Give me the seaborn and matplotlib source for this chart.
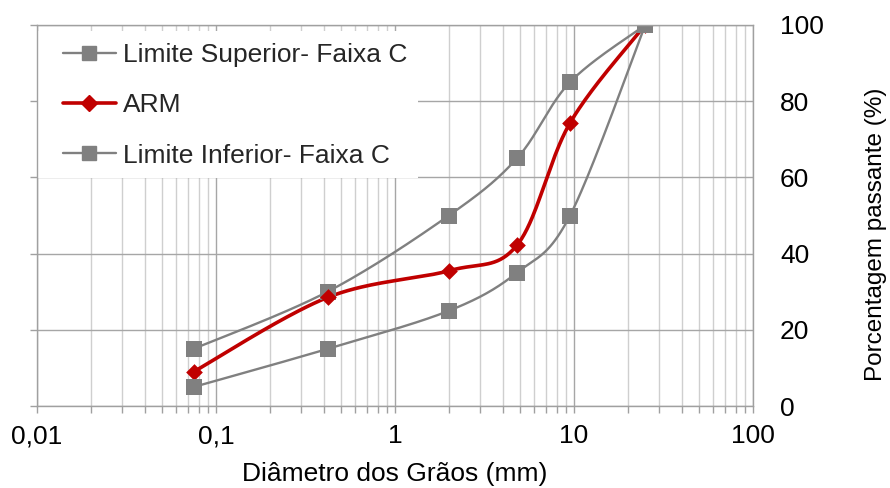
import numpy as np
import matplotlib
matplotlib.use("Agg")
import matplotlib.pyplot as plt
import matplotlib.ticker as mticker
from matplotlib.lines import Line2D
from matplotlib.patches import Rectangle
import seaborn as sns
import pandas as pd

# ---- data ----
diametro = [0.075, 0.42, 2.0, 4.8, 9.5, 25.0]
lim_sup = [15, 30, 50, 65, 85, 100]
arm = [9, 28.5, 35.5, 42.2, 74.3, 100]
lim_inf = [5, 15, 25, 35, 50, 100]
series_names = ["Limite Superior- Faixa C", "ARM", "Limite Inferior- Faixa C"]
x_ticks = [0.01, 0.1, 1, 10, 100]
x_ticklabels = ["0,01", "0,1", "1", "10", "100"]
y_ticks = [0, 20, 40, 60, 80, 100]

sns.set_theme(style="white")
plt.rcParams["font.family"] = ["Liberation Sans", "DejaVu Sans"]

GRAY = "#808080"
RED = "#C00000"
FS = 19


def smooth(xs, ys, n=40):
    # Catmull-Rom (Excel-like smoothed line) in log-x space
    lx = np.log10(np.asarray(xs, float))
    y = np.asarray(ys, float)
    P = np.column_stack([lx, y])
    P = np.vstack([P[0], P, P[-1]])
    out = []
    for i in range(1, len(P) - 2):
        p0, p1, p2, p3 = P[i - 1], P[i], P[i + 1], P[i + 2]
        c1 = p1 + (p2 - p0) / 6
        c2 = p2 - (p3 - p1) / 6
        t = np.linspace(0, 1, n)[:, None]
        b = ((1 - t) ** 3) * p1 + 3 * ((1 - t) ** 2) * t * c1 + 3 * (1 - t) * t ** 2 * c2 + t ** 3 * p2
        out.append(b if i == 1 else b[1:])
    out = np.vstack(out)
    return 10 ** out[:, 0], out[:, 1]


fig = plt.figure(figsize=(8.9, 4.88), dpi=100)
ax = fig.add_axes([0.0416, 0.168, 0.8045, 0.7808])

styles = [
    (lim_sup, GRAY, "s", 1.7, 11),
    (arm, RED, "D", 2.6, 8.5),
    (lim_inf, GRAY, "s", 1.7, 11),
]
handles = []
for (vals, col, mk, lw, ms), name in zip(styles, series_names):
    sx, sy = smooth(diametro, vals)
    sns.lineplot(x=sx, y=sy, ax=ax, color=col, linewidth=lw, sort=False, zorder=3)
    df = pd.DataFrame({"d": diametro, "p": vals})
    sns.scatterplot(data=df, x="d", y="p", ax=ax, color=col, marker=mk,
                    s=ms ** 2, edgecolor=col, linewidth=0, zorder=4)
    handles.append(Line2D([], [], color=col, linewidth=lw, marker=mk, markersize=ms * 0.9,
                          markeredgecolor=col, label=name))

ax.set_xscale("log")
ax.set_xlim(0.01, 100)
ax.set_ylim(0, 100)
ax.set_xticks(x_ticks)
ax.set_xticklabels(x_ticklabels)
ax.xaxis.set_minor_locator(mticker.LogLocator(base=10, subs=np.arange(2, 10)))
ax.xaxis.set_minor_formatter(mticker.NullFormatter())
ax.set_yticks(y_ticks)

ax.grid(True, which="major", axis="both", color="#a6a6a6", linewidth=1.0, zorder=0)
ax.grid(True, which="minor", axis="x", color="#cfcfcf", linewidth=1.0, zorder=0)
ax.set_axisbelow(True)

for s in ax.spines.values():
    s.set_color("#a0a0a0")
    s.set_linewidth(1.0)
    s.set_visible(True)
    s.set_zorder(6)

ax.tick_params(axis="x", which="both", bottom=True, top=False, direction="out",
               length=5, width=1, color="#a0a0a0", labelsize=FS, pad=8, labelcolor="black")
ax.tick_params(axis="y", which="major", left=True, right=False, labelleft=False,
               labelright=True, direction="out", length=5, width=1, color="#a0a0a0",
               labelsize=FS, pad=14.5, labelcolor="black")

ax.set_xlabel("Diâmetro dos Grãos (mm)", fontsize=FS, color="black")
ax.xaxis.set_label_coords(0.5, -0.146)
ax.yaxis.set_label_position("right")
ax.set_ylabel("Porcentagem passante (%)", fontsize=17.5, color="black")
ax.yaxis.set_label_coords(1.156, 0.45)

# white legend background box (legend area hides the grid)
ax.add_patch(Rectangle((0.0015, 0.598), 0.53, 0.386, transform=ax.transAxes,
                       facecolor="white", edgecolor="none", zorder=2))

leg = ax.legend(handles=handles, loc="upper left", bbox_to_anchor=(0.0363, 0.953),
                fontsize=FS, frameon=False, handlelength=2.0, labelspacing=1.0,
                handletextpad=0.28, borderpad=0, borderaxespad=0)
leg.set_zorder(5)

fig.savefig("out.png", dpi=100)
